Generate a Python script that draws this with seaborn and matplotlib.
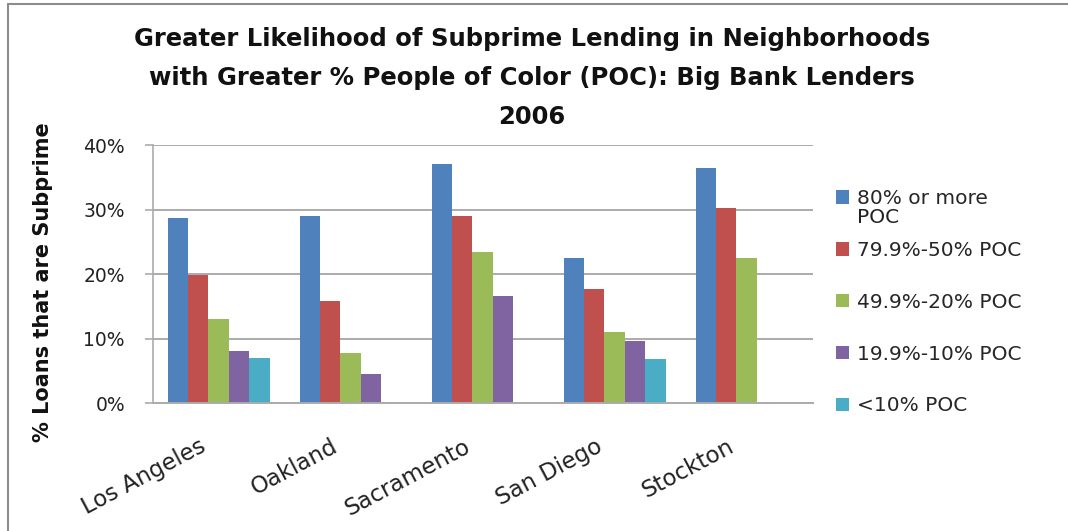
import matplotlib
matplotlib.use("Agg")
import matplotlib.pyplot as plt
import matplotlib.transforms as mtransforms
from matplotlib.patches import Patch
from matplotlib.lines import Line2D
from matplotlib.text import Annotation
import seaborn as sns
import pandas as pd
import numpy as np

cities = ["Los Angeles", "Oakland", "Sacramento", "San Diego", "Stockton"]
series = ["80% or more POC", "79.9%-50% POC", "49.9%-20% POC", "19.9%-10% POC", "<10% POC"]
legend_labels = ["80% or more", "79.9%-50% POC", "49.9%-20% POC", "19.9%-10% POC", "<10% POC"]
legend_wrap = "POC"
poc80 = [28.8, 29.0, 37.1, 22.6, 36.5]
poc50 = [19.9, 15.8, 29.0, 17.7, 30.3]
poc20 = [13.0, 7.8, 23.5, 11.1, 22.6]
poc10 = [8.1, 4.6, 16.7, 9.6, np.nan]
poc0 = [7.1, np.nan, np.nan, 6.8, np.nan]
colors = ["#4F81BD", "#C0504D", "#9BBB59", "#8064A2", "#4BACC6"]
yticks = [0, 10, 20, 30, 40]
ytick_labels = ["0%", "10%", "20%", "30%", "40%"]

values = [poc80, poc50, poc20, poc10, poc0]
rows = []
for s, vals in zip(series, values):
    for c, v in zip(cities, vals):
        rows.append({"city": c, "series": s, "value": v})
df = pd.DataFrame(rows)

sns.set_theme(style="white")
plt.rcParams["font.family"] = ["DejaVu Sans"]

fig = plt.figure(figsize=(10.68, 5.31), dpi=100)
ax = fig.add_axes([152.7/1068, 1-403.3/531, 660/1068, 258/531])

sns.barplot(data=df, x="city", y="value", hue="series", order=cities,
            hue_order=series, palette=colors, width=0.775, saturation=1,
            edgecolor="none", linewidth=0, ax=ax, legend=False)

ax.set_ylim(0, 40)
ax.set_yticks(yticks)
ax.set_yticklabels(ytick_labels, fontsize=13.5, color="#222222")
ax.set_xlim(-0.5, 4.5)
ax.yaxis.grid(True, color="#ABABAB", linewidth=1.4)
ax.set_axisbelow(True)
for sp in ["top", "right"]:
    ax.spines[sp].set_visible(False)
ax.spines["left"].set_color("#ABABAB")
ax.spines["left"].set_linewidth(1.2)
ax.spines["bottom"].set_color("#ABABAB")
ax.spines["bottom"].set_linewidth(1.4)
ax.tick_params(axis="y", direction="out", length=6, width=1.2, color="#ABABAB", pad=14, left=True)
ax.tick_params(axis="x", length=0, pad=30)
ax.set_xlabel("")

ax.set_xticks(range(len(cities)))
ax.set_xticklabels(cities, rotation=28, ha="right", rotation_mode="anchor",
                   fontsize=16.5, color="#222222", va="center")
offset = mtransforms.ScaledTranslation(-14/100, 0, fig.dpi_scale_trans)
for lab in ax.get_xticklabels():
    lab.set_transform(lab.get_transform() + offset)

ax.set_ylabel("% Loans that are Subprime", fontsize=15, fontweight="bold", color="#111111")
ax.yaxis.set_label_coords(-0.151, 0.468)

fig.text(0.498, 1-78/531,
         "Greater Likelihood of Subprime Lending in Neighborhoods\n"
         "with Greater % People of Color (POC): Big Bank Lenders\n2006",
         ha="center", va="center", fontsize=17.5, fontweight="bold",
         linespacing=1.8, color="#111111")

handles = [Patch(facecolor=c, edgecolor="none") for c in colors]
leg = fig.legend(handles, legend_labels, loc="upper left",
                 bbox_to_anchor=(828/1068, 1-181/531), frameon=False,
                 fontsize=14.5, handlelength=0.65, handleheight=0.65,
                 handletextpad=0.4, labelspacing=1.63, borderaxespad=0)
leg.set_zorder(5)
first = leg.get_texts()[0]
ann = Annotation(legend_wrap, xy=(0, 0), xycoords=first,
                 xytext=(0, 0), textcoords="offset pixels",
                 ha="left", va="top", fontsize=14.5, color="#222222",
                 annotation_clip=False)
ann.set_zorder(10)
fig.add_artist(ann)

# outer chart border (top and left)
fig.add_artist(Line2D([8/1068, 1], [1-4/531, 1-4/531], transform=fig.transFigure,
                      color="#8C8C8C", linewidth=1.5))
fig.add_artist(Line2D([8/1068, 8/1068], [0, 1-4/531], transform=fig.transFigure,
                      color="#8C8C8C", linewidth=1.5))

fig.savefig("out.png", dpi=100)
